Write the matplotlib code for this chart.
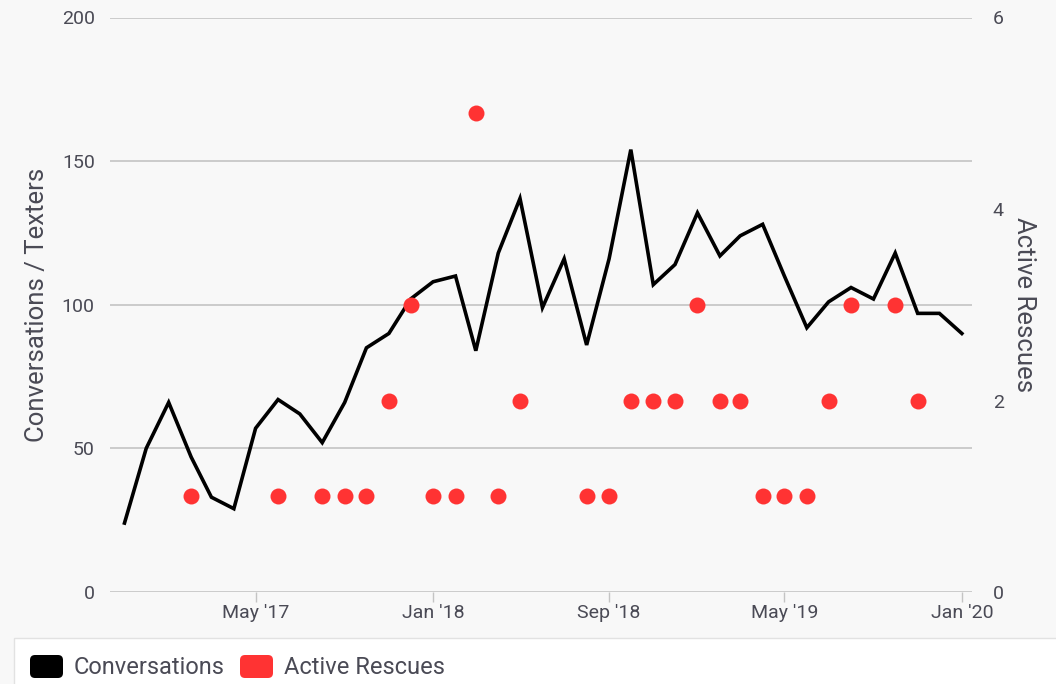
import matplotlib
matplotlib.use("Agg")
import matplotlib.pyplot as plt
from matplotlib.patches import FancyBboxPatch, Rectangle
from matplotlib.transforms import IdentityTransform
import pandas as pd
import numpy as np

plt.rcParams['font.family'] = ['Roboto', 'DejaVu Sans']

months = pd.date_range("2016-11-01", "2020-01-01", freq="MS")
conversations = [24, 50, 66, 47, 33, 29, 57, 67, 62, 52, 66, 85, 90, 102,
                 108, 110, 84, 118, 137, 99, 116, 86, 116, 154, 107, 114,
                 132, 117, 124, 128, 110, 92, 101, 106, 102, 118, 97, 97, 90]
active_rescues = [None, None, None, 1, None, None, None, 1, None, 1, 1, 1, 2, 3,
                  1, 1, 5, 1, 2, None, None, 1, 1, 2, 2, 2,
                  3, 2, 2, 1, 1, 1, 2, 3, None, 3, 2, None, None]
left_ticks = [0, 50, 100, 150, 200]
right_ticks = [0, 2, 4, 6]
x_ticks = ["2017-05-01", "2018-01-01", "2018-09-01", "2019-05-01", "2020-01-01"]
x_tick_labels = ["May '17", "Jan '18", "Sep '18", "May '19", "Jan '20"]

W, H = 1056, 684
bg = '#f8f8f8'
txt = '#4a4a55'
grid = '#c4c4c4'
red = '#ff3333'

fig = plt.figure(figsize=(W / 100, H / 100), dpi=100)
fig.patch.set_facecolor(bg)
x0, x1, y_top, y_bot = 110, 972, 17.5, 592
ax = fig.add_axes([x0 / W, 1 - y_bot / H, (x1 - x0) / W, (y_bot - y_top) / H])
ax.set_facecolor(bg)

ax.plot(months, conversations, color='black', lw=2.6, zorder=3, solid_joinstyle='miter')
ax.set_ylim(0, 200)
ax.set_yticks(left_ticks)
ax.set_yticklabels([str(t) for t in left_ticks])
ax.grid(axis='y', color=grid, lw=1.2, zorder=0)
ax.set_xlim(pd.Timestamp("2016-10-12"), pd.Timestamp("2020-01-15"))
ax.set_xticks(pd.to_datetime(x_ticks))
ax.set_xticklabels(x_tick_labels)
for s in ax.spines.values():
    s.set_visible(False)
ax.tick_params(axis='y', length=0, pad=11, labelsize=14, labelcolor=txt)
ax.tick_params(axis='x', length=7, width=1, color=grid, pad=2, labelsize=14, labelcolor=txt)

ax2 = ax.twinx()
r = np.array([np.nan if v is None else v for v in active_rescues], dtype=float)
ax2.plot(months, r, linestyle='none', marker='o', markersize=11.5, color=red,
         markeredgewidth=0, zorder=4)
ax2.set_ylim(0, 6)
ax2.set_yticks(right_ticks)
ax2.set_yticklabels([str(t) for t in right_ticks])
for s in ax2.spines.values():
    s.set_visible(False)
ax2.tick_params(axis='y', length=0, pad=15, labelsize=14, labelcolor=txt)

ymid = 1 - ((y_top + y_bot) / 2) / H
fig.text(37 / W, ymid, "Conversations / Texters", fontsize=18.5, color=txt,
         rotation=90, ha='center', va='center')
fig.text(1024 / W, ymid, "Active Rescues", fontsize=18.5, color=txt,
         rotation=270, ha='center', va='center')

# Legend box
fig.add_artist(Rectangle((13.5 / W, -0.01), (W - 13.5) / W + 0.01, (H - 637.5) / H + 0.01,
                         transform=fig.transFigure, facecolor='white',
                         edgecolor='#e2e2e2', lw=1))
def legend_item(xp, color, label):
    # pixel coordinates (origin bottom-left)
    fig.add_artist(FancyBboxPatch((xp + 4, H - 678 + 4), 33 - 8, 23 - 8,
                                  boxstyle="round,pad=4,rounding_size=5",
                                  transform=IdentityTransform(), facecolor=color,
                                  edgecolor='none'))
    fig.text((xp + 44) / W, 1 - 667 / H, label, fontsize=17, color=txt,
             va='center', ha='left')
legend_item(30, 'black', "Conversations")
legend_item(240, red, "Active Rescues")

fig.savefig("out.png", dpi=100, facecolor=bg)
